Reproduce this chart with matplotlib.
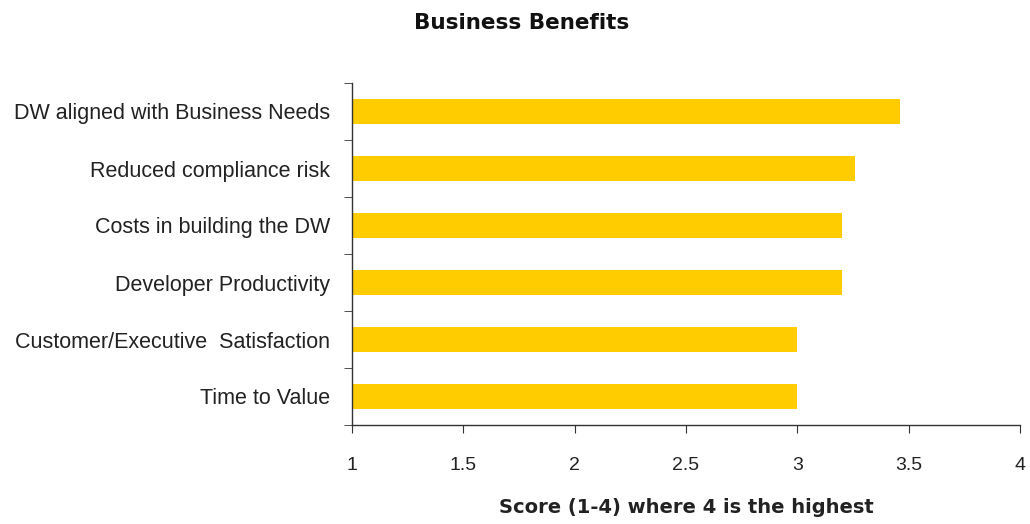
import matplotlib
matplotlib.use("Agg")
import matplotlib.pyplot as plt
import numpy as np

categories = ["DW aligned with Business Needs", "Reduced compliance risk",
              "Costs in building the DW", "Developer Productivity",
              "Customer/Executive  Satisfaction", "Time to Value"]
scores = [3.46, 3.26, 3.20, 3.20, 3.00, 3.00]
xticks = [1, 1.5, 2, 2.5, 3, 3.5, 4]
xticklabels = ["1", "1.5", "2", "2.5", "3", "3.5", "4"]

plt.rcParams['font.family'] = ['Liberation Sans', 'DejaVu Sans']

fig = plt.figure(figsize=(10.30, 5.24), dpi=100)
ax = fig.add_axes([352/1030, 1-425/524, (1020-352)/1030, (425-83)/524])

y = np.arange(len(categories))
ax.barh(y, [s - 1 for s in scores], left=1, height=0.43, color="#FFCC00")
ax.set_ylim(len(categories) - 0.5, -0.5)
ax.set_xlim(1, 4)
ax.set_xticks(xticks)
ax.set_xticklabels(xticklabels, fontsize=14, color="#222222")
ax.set_yticks(y)
ax.set_yticklabels(categories, fontsize=15.5, color="#222222")
ax.tick_params(axis='y', length=0, pad=16)
ax.set_yticks(np.arange(-0.5, len(categories), 1), minor=True)
ax.tick_params(axis='y', which='minor', length=6, color="#333333")
ax.tick_params(axis='x', length=6, pad=17, color="#333333")
for s in ["top", "right"]:
    ax.spines[s].set_visible(False)
for s in ["left", "bottom"]:
    ax.spines[s].set_color("#333333")
    ax.spines[s].set_linewidth(1.0)

ax.set_xlabel("Score (1-4) where 4 is the highest", fontsize=14, fontweight="bold",
              labelpad=17, color="#222222", family=["DejaVu Sans"])
fig.text(522/1030, 1-23/524, "Business Benefits", fontsize=15.5, fontweight="bold",
         ha="center", va="center", family=["DejaVu Sans"], color="#111111")

fig.savefig("out.png", dpi=100)
